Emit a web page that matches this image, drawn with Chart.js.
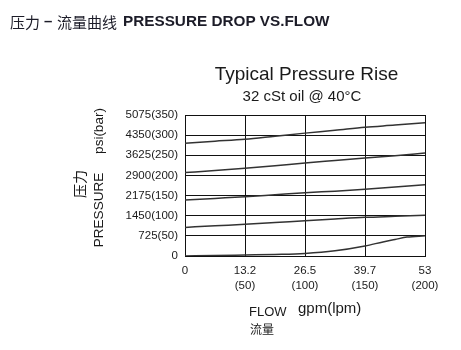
<!DOCTYPE html>
<html>
<head>
<meta charset="utf-8">
<script src="https://cdn.jsdelivr.net/npm/chart.js@4.4.1/dist/chart.umd.min.js"></script>
<style>
html,body{margin:0;padding:0;background:#fff;}
#wrap{position:relative;width:461px;height:350px;}
</style>
</head>
<body>
<div id="wrap"><canvas id="c" width="461" height="350"></canvas></div>
<script>
// ---- data ----
const flowLpm = [0, 25, 50, 75, 100, 125, 150, 175, 200];
const curve1 = [280, 285, 290, 297.5, 305, 312, 319.5, 325, 331];
const curve2 = [207, 212, 217.7, 224, 231, 237, 243, 249, 255.7];
const curve3 = [139, 143, 147, 152, 157, 161, 165.5, 171, 177];
const curve4 = [71, 75, 78.6, 83, 87.7, 92, 96, 98.5, 101];
const curve5Flow = [0, 25, 50, 75, 100, 125, 150, 165, 175, 185, 200];
const curve5 = [0, 1, 2.5, 4, 6.5, 13, 25, 35, 41, 47, 50];
const xTickValues = [0, 50, 100, 150, 200];
const xTickLabels = [['0'], ['13.2', '(50)'], ['26.5', '(100)'], ['39.7', '(150)'], ['53', '(200)']];
const yTickValues = [0, 50, 100, 150, 200, 250, 300, 350];
const yTickLabels = ['0', '725(50)', '1450(100)', '2175(150)', '2900(200)', '3625(250)', '4350(300)', '5075(350)'];

const pageTitleCN1 = '压力';
const pageTitleDash = '–';
const pageTitleCN2 = '流量曲线';
const pageTitleEN = 'PRESSURE DROP VS.FLOW';
const chartTitle = 'Typical Pressure Rise';
const chartSubtitle = '32 cSt oil @ 40°C';
const yTitleCN = '压力';
const yTitleEN = 'PRESSURE';
const yTitleUnit = 'psi(bar)';
const xTitleEN = 'FLOW';
const xTitleUnit = 'gpm(lpm)';
const xTitleCN = '流量';

function pts(xs, ys) { return xs.map((x, i) => ({x: x, y: ys[i]})); }

const lineStyle = {
  borderColor: '#333', borderWidth: 1.5, pointRadius: 0, fill: false,
  cubicInterpolationMode: 'monotone'
};

const textPlugin = {
  id: 'texts',
  afterDraw(chart) {
    const ctx = chart.ctx;
    const a = chart.chartArea;
    const cx = (a.left + a.right) / 2;
    ctx.save();
    ctx.textBaseline = 'middle';
    // page header
    ctx.textAlign = 'left';
    ctx.fillStyle = '#1c1c28';
    ctx.font = '15px "Noto Sans CJK SC"';
    ctx.fillText(pageTitleCN1, 10, 22);
    ctx.fillText(pageTitleCN2, 57, 22);
    ctx.font = 'bold 15px "Liberation Sans", Arial, sans-serif';
    ctx.fillText(pageTitleDash, 44, 22);
    ctx.font = 'bold 15.3px "Liberation Sans", Arial, sans-serif';
    ctx.fillText(pageTitleEN, 123, 22);
    ctx.fillStyle = '#1a1a1a';
    // chart titles
    ctx.textAlign = 'center';
    ctx.font = '19px "Liberation Sans", Arial, sans-serif';
    ctx.fillText(chartTitle, cx + 1.5, 75);
    ctx.font = '15px "Liberation Sans", Arial, sans-serif';
    ctx.fillText(chartSubtitle, cx - 3, 97);
    // y title (rotated)
    ctx.save();
    ctx.translate(99, 0);
    ctx.rotate(-Math.PI / 2);
    ctx.font = '13.5px "Liberation Sans", Arial, sans-serif';
    ctx.fillText(yTitleEN, -210, 0);
    ctx.fillText(yTitleUnit, -131, 0);
    ctx.restore();
    ctx.save();
    ctx.translate(80, 0);
    ctx.rotate(-Math.PI / 2);
    ctx.font = '14px "Noto Sans CJK SC"';
    ctx.fillText(yTitleCN, -184, 0);
    ctx.restore();
    // x title
    ctx.textAlign = 'left';
    ctx.font = '13px "Liberation Sans", Arial, sans-serif';
    ctx.fillText(xTitleEN, 249, 312);
    ctx.font = '15px "Liberation Sans", Arial, sans-serif';
    ctx.fillText(xTitleUnit, 298, 309);
    ctx.font = '12px "Noto Sans CJK SC"';
    ctx.fillText(xTitleCN, 250, 329);
    ctx.restore();
  }
};

new Chart(document.getElementById('c'), {
  type: 'line',
  data: {
    datasets: [
      Object.assign({data: pts(flowLpm, curve1)}, lineStyle),
      Object.assign({data: pts(flowLpm, curve2)}, lineStyle),
      Object.assign({data: pts(flowLpm, curve3)}, lineStyle),
      Object.assign({data: pts(flowLpm, curve4)}, lineStyle),
      Object.assign({data: pts(curve5Flow, curve5)}, lineStyle)
    ]
  },
  options: {
    responsive: false,
    animation: false,
    devicePixelRatio: 1,
    layout: {padding: {top: 115, right: 36, bottom: 0, left: 0}},
    plugins: {legend: {display: false}, tooltip: {enabled: false}},
    scales: {
      x: {
        type: 'linear', min: 0, max: 200,
        afterFit(s) { s.height = 94; },
        afterBuildTicks(s) { s.ticks = xTickValues.map(v => ({value: v})); },
        grid: {color: '#111', lineWidth: 1, drawTicks: false},
        border: {color: '#111', width: 1},
        ticks: {
          padding: 7, color: '#1a1a1a', maxRotation: 0, autoSkip: false,
          font: {family: '"Liberation Sans", Arial, sans-serif', size: 11.5, lineHeight: 1.3},
          callback: (v) => xTickLabels[xTickValues.indexOf(v)]
        }
      },
      y: {
        type: 'linear', min: 0, max: 350,
        afterFit(s) { s.width = 185; },
        afterBuildTicks(s) { s.ticks = yTickValues.map(v => ({value: v})); },
        grid: {color: '#111', lineWidth: 1, drawTicks: false},
        border: {color: '#111', width: 1},
        ticks: {
          padding: 7, color: '#1a1a1a', autoSkip: false,
          font: {family: '"Liberation Sans", Arial, sans-serif', size: 11.5},
          callback: (v) => yTickLabels[yTickValues.indexOf(v)]
        }
      }
    }
  },
  plugins: [textPlugin]
});
</script>
</body>
</html>
